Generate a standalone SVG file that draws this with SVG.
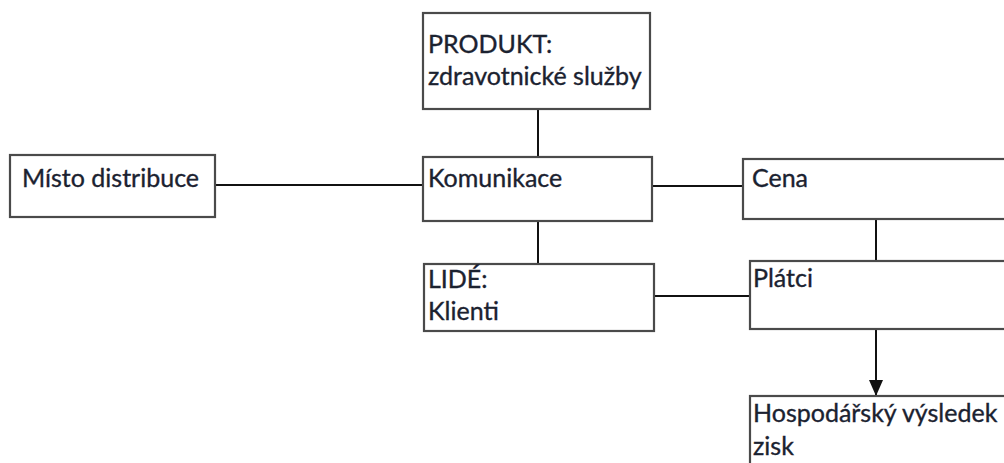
<svg xmlns="http://www.w3.org/2000/svg" width="1004" height="463" viewBox="0 0 1004 463">
  <style>
    .box { fill: #ffffff; stroke: #4a4a4a; stroke-width: 2.2; }
    .lbl { font-family: Lato, "Noto Sans", sans-serif; font-size: 25px; fill: #1b2230; stroke: #1b2230; stroke-width: 0.35; }
    .wire { stroke: #111111; stroke-width: 2; fill: none; }
  </style>
  <defs>
    <marker id="arrow" markerWidth="16" markerHeight="14" refX="15" refY="7" orient="auto" markerUnits="userSpaceOnUse" viewBox="0 0 16 14">
      <path d="M0,0 L16,7 L0,14 Z" fill="#111111"/>
    </marker>
  </defs>
  <rect width="1004" height="463" fill="#ffffff"/>

  <g id="connectors">
    <line class="wire" x1="538" y1="109" x2="538" y2="157"/>
    <line class="wire" x1="215" y1="185" x2="423" y2="185"/>
    <line class="wire" x1="652" y1="186" x2="743" y2="186"/>
    <line class="wire" x1="538" y1="221" x2="538" y2="264"/>
    <line class="wire" x1="654" y1="296" x2="750" y2="296"/>
    <line class="wire" x1="876" y1="219" x2="876" y2="261"/>
    <line class="wire" x1="876" y1="329" x2="876" y2="395" marker-end="url(#arrow)"/>
  </g>

  <g id="produkt">
    <rect class="box" x="423" y="13" width="227" height="96"/>
    <text class="lbl" x="428" y="53">PRODUKT:</text>
    <text class="lbl" x="428" y="85">zdravotnické služby</text>
  </g>

  <g id="misto">
    <rect class="box" x="10" y="155" width="205" height="62"/>
    <text class="lbl" x="22" y="187">Místo distribuce</text>
  </g>

  <g id="komunikace">
    <rect class="box" x="423" y="157" width="229" height="64"/>
    <text class="lbl" x="428" y="187">Komunikace</text>
  </g>

  <g id="lide">
    <rect class="box" x="424" y="264" width="230" height="67"/>
    <text class="lbl" x="428" y="288">LIDÉ:</text>
    <text class="lbl" x="428" y="320">Klienti</text>
  </g>

  <g id="cena">
    <rect class="box" x="743" y="159" width="280" height="60"/>
    <text class="lbl" x="752" y="187">Cena</text>
  </g>

  <g id="platci">
    <rect class="box" x="750" y="261" width="280" height="68"/>
    <text class="lbl" x="753" y="287">Plátci</text>
  </g>

  <g id="vysledek">
    <rect class="box" x="750" y="396" width="280" height="90"/>
    <text class="lbl" x="753" y="422">Hospodářský výsledek</text>
    <text class="lbl" x="753" y="455">zisk</text>
  </g>
</svg>
